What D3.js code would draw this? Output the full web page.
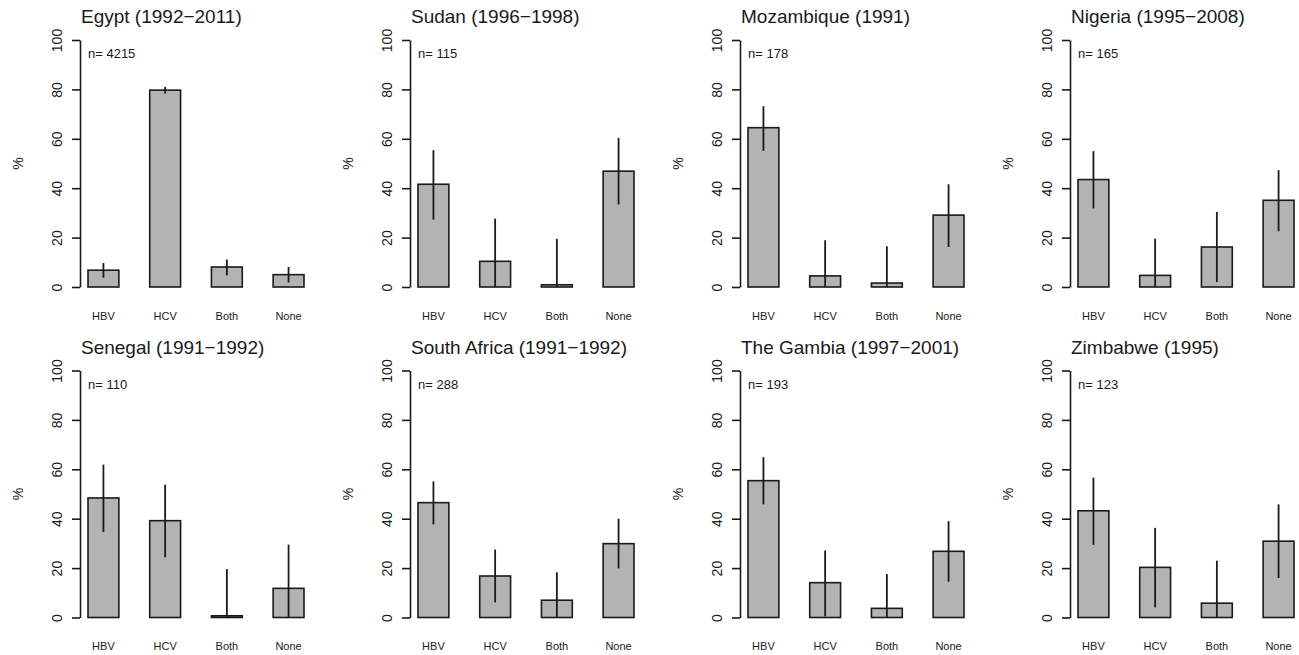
<!DOCTYPE html>
<html>
<head>
<meta charset="utf-8">
<script src="https://cdn.jsdelivr.net/npm/d3@7"></script>
<style>
  body { margin: 0; background: #fff; }
  svg { display: block; font-family: "Liberation Sans", Arial, Helvetica, sans-serif; }
</style>
</head>
<body>
<div class="chart-container"></div>
<script>
// --- Data ---

var titles = [
    "Egypt (1992\u22122011)", "Sudan (1996\u22121998)", "Mozambique (1991)", "Nigeria (1995\u22122008)",
    "Senegal (1991\u22121992)", "South Africa (1991\u22121992)", "The Gambia (1997\u22122001)", "Zimbabwe (1995)"
];
var sampleSizes = [4215, 115, 178, 165, 110, 288, 193, 123];
var categories = ["HBV", "HCV", "Both", "None"];
var yTicks = [0, 20, 40, 60, 80, 100];

// percentage per category (HBV, HCV, Both, None), one row per panel
var estimates = [
    [6.8, 79.7, 8.1, 5.0],
    [41.6, 10.4, 0.9, 46.9],
    [64.5, 4.5, 1.6, 29.1],
    [43.5, 4.7, 16.2, 35.1],
    [48.4, 39.2, 0.7, 11.8],
    [46.5, 16.8, 7.0, 29.9],
    [55.4, 14.1, 3.7, 26.8],
    [43.2, 20.3, 5.8, 30.9]
];
var lowerCI = [
    [3.8, 78.3, 4.7, 1.8],
    [27.3, 0, 0, 33.4],
    [55.1, 0, 0, 16.2],
    [31.8, 0, 2.0, 22.6],
    [34.6, 24.4, 0, 0],
    [37.7, 6.1, 0, 19.9],
    [45.8, 0.5, 0, 14.5],
    [29.4, 4.1, 0, 16.0]
];
var upperCI = [
    [9.7, 81.0, 11.1, 8.1],
    [55.4, 27.7, 19.5, 60.4],
    [73.2, 18.9, 16.5, 41.6],
    [55.0, 19.6, 30.4, 47.3],
    [61.9, 53.8, 19.6, 29.5],
    [55.1, 27.5, 18.3, 40.0],
    [64.9, 27.1, 17.6, 39.0],
    [56.6, 36.3, 23.0, 45.8]
];

// --- Layout ---

const w = 1299;
const h = 655;
const panelW = 330;
const panelH = 330.5;
const axisX = 80;
const plotTop = 40;
const plotBottom = 287;
const ink = "#1a1a1a";

var svg = d3.select(".chart-container")
    .append("svg")
    .attr("width", w)
    .attr("height", h);

var xScale = d3.scaleBand()
    .domain(categories)
    .range([88, 304])
    .paddingInner(0.5)
    .paddingOuter(0);

var yScale = d3.scaleLinear()
    .domain([0, 100])
    .range([plotBottom, plotTop]);

// --- Panels ---

titles.forEach(function (title, p) {
    var col = p % 4;
    var row = Math.floor(p / 4);
    var g = svg.append("g")
        .attr("transform", "translate(" + (col * panelW) + "," + (row * panelH) + ")");

    var rows = categories.map(function (c, i) {
        return { cat: c, est: estimates[p][i], lo: lowerCI[p][i], hi: upperCI[p][i] };
    });

    // bars
    g.selectAll("rect")
        .data(rows)
        .enter()
        .append("rect")
        .attr("x", function (d) { return xScale(d.cat); })
        .attr("y", function (d) { return yScale(d.est); })
        .attr("width", xScale.bandwidth())
        .attr("height", function (d) { return yScale(0) - yScale(d.est); })
        .attr("fill", "#b3b3b3")
        .attr("stroke", ink)
        .attr("stroke-width", 1.6);

    // confidence intervals
    g.selectAll("line.ci")
        .data(rows)
        .enter()
        .append("line")
        .attr("class", "ci")
        .attr("x1", function (d) { return xScale(d.cat) + xScale.bandwidth() / 2; })
        .attr("x2", function (d) { return xScale(d.cat) + xScale.bandwidth() / 2; })
        .attr("y1", function (d) { return yScale(d.lo); })
        .attr("y2", function (d) { return yScale(d.hi); })
        .attr("stroke", ink)
        .attr("stroke-width", 1.8);

    // y axis, R style with rotated labels
    var yAxis = g.append("g")
        .attr("transform", "translate(" + axisX + ",0)")
        .call(d3.axisLeft(yScale).tickValues(yTicks).tickSize(8).tickSizeOuter(0));
    yAxis.select(".domain").attr("stroke", ink).attr("stroke-width", 1.6);
    yAxis.selectAll(".tick line").attr("stroke", ink).attr("stroke-width", 1.6);
    yAxis.selectAll(".tick text")
        .attr("x", null)
        .attr("dy", null)
        .attr("transform", "translate(-18,0) rotate(-90)")
        .attr("text-anchor", "middle")
        .attr("font-size", "14px")
        .attr("font-family", null)
        .attr("fill", ink);

    // category labels
    var xAxis = g.append("g")
        .attr("transform", "translate(0," + plotBottom + ")")
        .call(d3.axisBottom(xScale).tickSize(0).tickPadding(25));
    xAxis.select(".domain").remove();
    xAxis.selectAll(".tick text")
        .attr("font-size", "11px")
        .attr("font-family", null)
        .attr("fill", ink);

    // y label
    g.append("text")
        .attr("transform", "translate(23," + ((plotTop + plotBottom) / 2) + ") rotate(-90)")
        .attr("text-anchor", "middle")
        .attr("font-size", "14px")
        .attr("fill", ink)
        .text("%");

    // title
    g.append("text")
        .attr("x", 81)
        .attr("y", 23)
        .attr("font-size", "19px")
        .attr("fill", ink)
        .text(title);

    // sample size
    g.append("text")
        .attr("x", 88)
        .attr("y", 58)
        .attr("font-size", "13px")
        .attr("fill", ink)
        .text("n= " + sampleSizes[p]);
});
</script>
</body>
</html>
